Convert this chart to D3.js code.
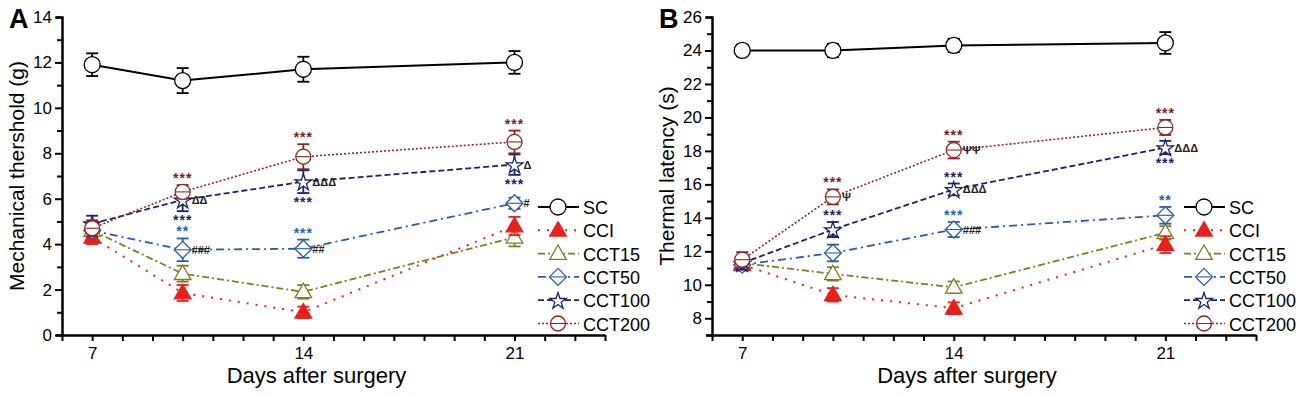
<!DOCTYPE html>
<html>
<head>
<meta charset="utf-8">
<script src="https://cdn.jsdelivr.net/npm/d3@7"></script>
<style>
  body { margin: 0; background: #fff; }
  svg { display: block; font-family: "Liberation Sans", Arial, sans-serif; }
  .axis path, .axis line { stroke: #000; }
  .axis text { font-size: 17px; fill: #000; font-family: "Liberation Sans", Arial, sans-serif; }
</style>
</head>
<body>
<svg id="chart" width="1300" height="395"></svg>
<script>
// データ
var days = [7, 10, 14, 21];
var seriesNames = ["SC", "CCI", "CCT15", "CCT50", "CCT100", "CCT200"];

// A: 機械的閾値 (g)
var mechMean = {
  SC:     [11.9, 11.2, 11.7, 12.0],
  CCI:    [4.3, 1.85, 1.0, 4.8],
  CCT15:  [4.6, 2.7, 1.9, 4.3],
  CCT50:  [4.6, 3.75, 3.8, 5.8],
  CCT100: [4.9, 5.95, 6.75, 7.5],
  CCT200: [4.7, 6.3, 7.85, 8.5]
};
var mechErr = {
  SC:     [0.5, 0.55, 0.55, 0.5],
  CCI:    [0.3, 0.35, 0.25, 0.4],
  CCT15:  [0.3, 0.35, 0.3, 0.4],
  CCT50:  [0.3, 0.5, 0.4, 0.25],
  CCT100: [0.35, 0.5, 0.5, 0.45],
  CCT200: [0.35, 0.3, 0.55, 0.5]
};

// B: 熱潜時 (s)
var thermMean = {
  SC:     [24.0, 24.0, 24.3, 24.45],
  CCI:    [11.2, 9.4, 8.6, 12.4],
  CCT15:  [11.3, 10.65, 9.85, 13.1],
  CCT50:  [11.2, 11.9, 13.3, 14.15],
  CCT100: [11.3, 13.3, 15.7, 18.2],
  CCT200: [11.5, 15.25, 18.05, 19.4]
};
var thermErr = {
  SC:     [0.35, 0.4, 0.4, 0.65],
  CCI:    [0.3, 0.4, 0.35, 0.5],
  CCT15:  [0.3, 0.4, 0.35, 0.4],
  CCT50:  [0.35, 0.5, 0.45, 0.5],
  CCT100: [0.4, 0.45, 0.35, 0.4],
  CCT200: [0.45, 0.45, 0.5, 0.45]
};

// 有意差マーク
var mechNotes = [
  [10, "CCT200", "***", "above"], [10, "CCT100", "ΔΔ", "right"], [10, "CCT100", "***", "below"],
  [10, "CCT50", "**", "above"], [10, "CCT50", "###", "right"],
  [14, "CCT200", "***", "above"], [14, "CCT100", "ΔΔΔ", "right"], [14, "CCT100", "***", "below"],
  [14, "CCT50", "***", "above"], [14, "CCT50", "##", "right"],
  [21, "CCT200", "***", "above"], [21, "CCT100", "Δ", "right"], [21, "CCT100", "***", "below"],
  [21, "CCT50", "#", "right"]
];
var thermNotes = [
  [10, "CCT200", "***", "above"], [10, "CCT200", "Ψ", "right"], [10, "CCT100", "***", "above"],
  [14, "CCT200", "***", "above"], [14, "CCT200", "ΨΨ", "right"], [14, "CCT100", "***", "above"],
  [14, "CCT100", "ΔΔΔ", "right"], [14, "CCT50", "***", "above"], [14, "CCT50", "###", "right"],
  [21, "CCT200", "***", "above"], [21, "CCT100", "ΔΔΔ", "right"], [21, "CCT100", "***", "below"],
  [21, "CCT50", "**", "above"]
];

// スタイル
var style = {
  SC:     { color: "#000000", dash: null,        width: 2,   marker: "circle",   fill: "#fff" },
  CCI:    { color: "#e8201c", dash: "2,7",       width: 2,   marker: "triangle", fill: "#e8201c" },
  CCT15:  { color: "#7d7d22", dash: "7,3,2,3",   width: 1.8, marker: "triangle", fill: "#fff" },
  CCT50:  { color: "#2d5aa8", dash: "8,4,2,4",   width: 1.8, marker: "diamond",  fill: "#fff" },
  CCT100: { color: "#1c2266", dash: "6,3",       width: 1.8, marker: "star",     fill: "#fff" },
  CCT200: { color: "#8b2525", dash: "2,2",       width: 1.6, marker: "circleBar",fill: "#fff" }
};
var noteColor = { CCT200: "#7a1f1f", CCT100: "#1c2266", CCT50: "#2a5fb0" };

var svg = d3.select("#chart");

function drawMarker(g, type, x, y, st) {
  var m;
  if (type === "circle" || type === "circleBar") {
    m = g.append("circle").attr("cx", x).attr("cy", y).attr("r", type === "circle" ? 8 : 7.5);
  } else if (type === "triangle") {
    m = g.append("path").attr("d", d3.symbol().type(d3.symbolTriangle).size(120)())
      .attr("transform", "translate(" + x + "," + (y + 1) + ")");
  } else if (type === "star") {
    m = g.append("path").attr("d", d3.symbol().type(d3.symbolStar).size(85)())
      .attr("transform", "translate(" + x + "," + (y + 1) + ")");
  } else if (type === "diamond") {
    m = g.append("path").attr("d", "M0,-8.5L8.5,0L0,8.5L-8.5,0Z")
      .attr("transform", "translate(" + x + "," + y + ")");
  }
  m.attr("fill", st.fill).attr("stroke", st.color).attr("stroke-width", 1.3);
  if (type === "circleBar" || type === "diamond") {
    var w = type === "diamond" ? 7.5 : 7;
    g.append("line").attr("x1", x - w).attr("x2", x + w).attr("y1", y).attr("y2", y)
      .attr("stroke", st.color).attr("stroke-width", 1.1);
  }
}

function drawPanel(opt) {
  var x = d3.scaleLinear().domain([6, 24]).range([opt.x0, opt.x1]);
  var y = d3.scaleLinear().domain(opt.yDomain).range([335, 17]);
  var g = svg.append("g");

  // 軸
  var xTicks = d3.range(6, 25);
  g.append("g").attr("class", "axis")
    .attr("transform", "translate(0,335)")
    .call(d3.axisBottom(x).tickValues(xTicks).tickSize(6).tickSizeOuter(0)
      .tickFormat(function(d){ return days.indexOf(d) >= 0 && d !== 10 ? d : ""; }))
    .call(function(a){
      a.select(".domain").attr("stroke-width", 2.5);
      a.selectAll(".tick line").attr("stroke-width", 2);
      a.selectAll(".tick text").attr("y", 24).attr("dy", 0);
    });

  var yTicks = d3.range(opt.yDomain[0], opt.yDomain[1] + 1);
  g.append("g").attr("class", "axis")
    .attr("transform", "translate(" + opt.x0 + ",0)")
    .call(d3.axisLeft(y).tickValues(yTicks).tickSizeOuter(0)
      .tickSize(6)
      .tickFormat(function(d){ return d % 2 === 0 ? d : ""; }))
    .call(function(a){
      a.select(".domain").attr("stroke-width", 2.5);
      a.selectAll(".tick line").attr("stroke-width", 2)
        .attr("x2", function(d){ return d % 2 === 0 ? -7 : -5; });
      a.selectAll(".tick text").attr("x", -10);
    });

  // 軸ラベル
  g.append("text").attr("x", (opt.x0 + opt.x1) / 2 - 17).attr("y", 383)
    .attr("text-anchor", "middle").attr("font-size", 22).text("Days after surgery");
  g.append("text")
    .attr("transform", "translate(" + opt.yLabelX + ",176) rotate(-90)")
    .attr("text-anchor", "middle").attr("font-size", 21).text(opt.yLabel);
  g.append("text").attr("x", opt.letterX).attr("y", 28)
    .attr("font-size", 27).attr("font-weight", "bold").text(opt.letter);

  // 折れ線
  var order = ["SC", "CCT15", "CCI", "CCT50", "CCT100", "CCT200"];
  order.forEach(function(s){
    var st = style[s];
    var pts = days.map(function(d, i){ return [x(d), y(opt.mean[s][i])]; });
    g.append("path").attr("d", d3.line()(pts))
      .attr("fill", "none").attr("stroke", st.color).attr("stroke-width", st.width)
      .attr("stroke-dasharray", st.dash);
  });

  // エラーバーとマーカー
  order.forEach(function(s){
    var st = style[s];
    days.forEach(function(d, i){
      var cx = x(d), m = opt.mean[s][i], e = opt.err[s][i];
      var eg = g.append("g").attr("stroke", st.color).attr("stroke-width", 1.8);
      eg.append("line").attr("x1", cx).attr("x2", cx).attr("y1", y(m + e)).attr("y2", y(m - e));
      eg.append("line").attr("x1", cx - 6).attr("x2", cx + 6).attr("y1", y(m + e)).attr("y2", y(m + e));
      eg.append("line").attr("x1", cx - 6).attr("x2", cx + 6).attr("y1", y(m - e)).attr("y2", y(m - e));
      drawMarker(g, st.marker, cx, y(m), st);
    });
  });

  // 有意差マーク
  opt.notes.forEach(function(n){
    var i = days.indexOf(n[0]), s = n[1];
    var cx = x(n[0]), m = opt.mean[s][i], e = opt.err[s][i];
    var t = g.append("text").text(n[2]);
    if (n[3] === "above") {
      t.attr("x", cx).attr("y", y(m + e) - 2).attr("text-anchor", "middle")
        .attr("font-size", 14).attr("font-weight", "bold").attr("letter-spacing", 1)
        .attr("fill", noteColor[s]);
    } else if (n[3] === "below") {
      t.attr("x", cx).attr("y", y(m - e) + 14).attr("text-anchor", "middle")
        .attr("font-size", 14).attr("font-weight", "bold").attr("letter-spacing", 1)
        .attr("fill", noteColor[s]);
    } else {
      t.attr("x", cx + 9).attr("y", y(m) + 4).attr("font-size", 11).attr("font-weight", "bold")
        .attr("fill", "#222");
    }
  });

  // 凡例
  seriesNames.forEach(function(s, i){
    var st = style[s];
    var ly = 207 + i * 23.3;
    g.append("line").attr("x1", opt.legX).attr("x2", opt.legX + 41).attr("y1", ly).attr("y2", ly)
      .attr("stroke", st.color).attr("stroke-width", st.width).attr("stroke-dasharray", st.dash);
    drawMarker(g, st.marker, opt.legX + 20, ly, st);
    g.append("text").attr("x", opt.legX + 45).attr("y", ly + 7)
      .attr("font-size", 18).text(s);
  });
}

drawPanel({
  x0: 62, x1: 605, yDomain: [0, 14], mean: mechMean, err: mechErr, notes: mechNotes,
  yLabel: "Mechanical thershold (g)", yLabelX: 24, letter: "A", letterX: 9, legX: 538
});
drawPanel({
  x0: 712, x1: 1256, yDomain: [7, 26], mean: thermMean, err: thermErr, notes: thermNotes,
  yLabel: "Thermal latency (s)", yLabelX: 674, letter: "B", letterX: 659, legX: 1184
});
</script>
</body>
</html>
